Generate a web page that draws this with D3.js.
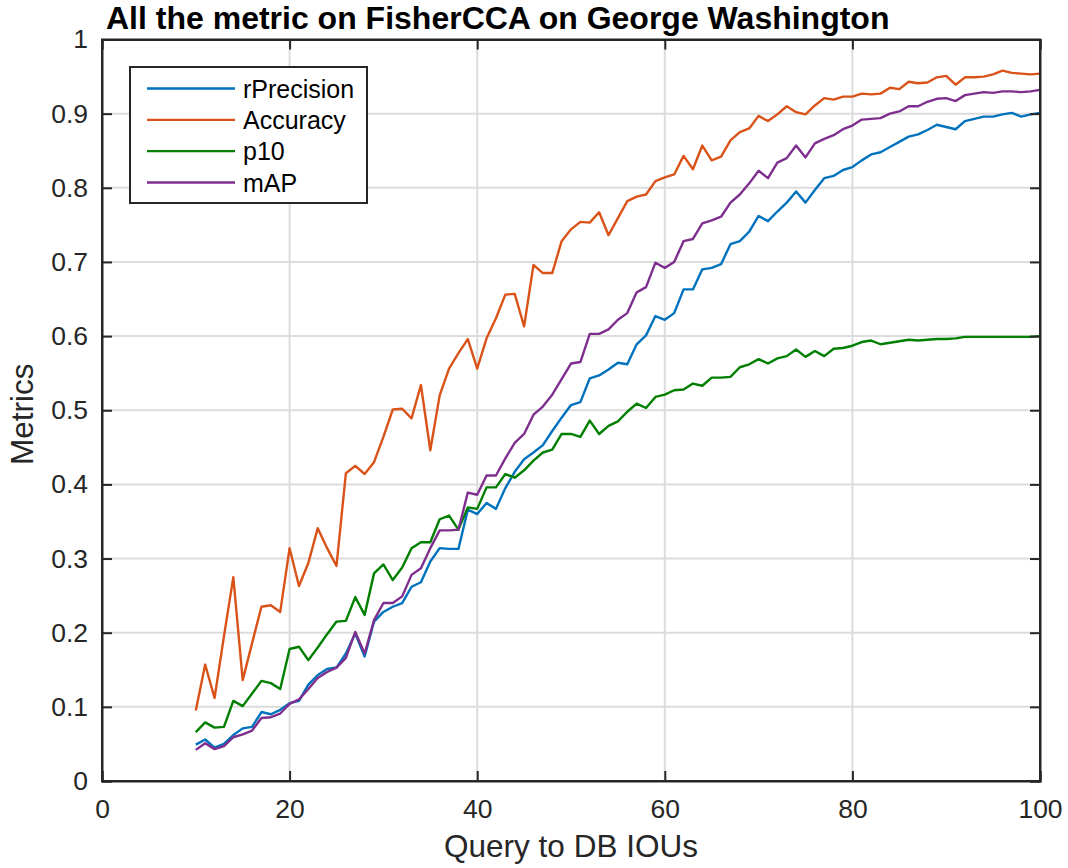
<!DOCTYPE html>
<html>
<head>
<meta charset="utf-8">
<script src="https://cdn.jsdelivr.net/npm/d3@7"></script>
<style>
  html, body { margin: 0; padding: 0; background: #fff; }
  svg { display: block; font-family: "Liberation Sans", Arial, Helvetica, sans-serif; }
</style>
</head>
<body>
<svg id="chart" width="1068" height="868"></svg>
<script>
// Query-to-DB IoU thresholds (x axis)
const ious = [10, 11, 12, 13, 14, 15, 16, 17, 18, 19, 20, 21, 22, 23, 24, 25, 26, 27, 28, 29,
  30, 31, 32, 33, 34, 35, 36, 37, 38, 39, 40, 41, 42, 43, 44, 45, 46, 47, 48, 49,
  50, 51, 52, 53, 54, 55, 56, 57, 58, 59, 60, 61, 62, 63, 64, 65, 66, 67, 68, 69,
  70, 71, 72, 73, 74, 75, 76, 77, 78, 79, 80, 81, 82, 83, 84, 85, 86, 87, 88, 89,
  90, 91, 92, 93, 94, 95, 96, 97, 98, 99, 100];

const rPrecision = [0.049, 0.056, 0.045, 0.050, 0.062, 0.071, 0.073, 0.093, 0.090, 0.096,
  0.105, 0.108, 0.130, 0.143, 0.151, 0.153, 0.172, 0.199, 0.168, 0.215,
  0.228, 0.235, 0.240, 0.262, 0.268, 0.296, 0.314, 0.313, 0.313, 0.366,
  0.360, 0.375, 0.367, 0.395, 0.417, 0.434, 0.443, 0.453, 0.472, 0.490,
  0.507, 0.511, 0.543, 0.547, 0.555, 0.564, 0.562, 0.589, 0.601, 0.627,
  0.622, 0.631, 0.663, 0.663, 0.690, 0.692, 0.697, 0.724, 0.728, 0.741,
  0.762, 0.755, 0.768, 0.780, 0.795, 0.780, 0.797, 0.813, 0.816, 0.824,
  0.828, 0.837, 0.845, 0.848, 0.855, 0.862, 0.869, 0.872, 0.878, 0.885,
  0.882, 0.879, 0.890, 0.893, 0.896, 0.896, 0.899, 0.901, 0.896, 0.899, 0.901];

const accuracy = [0.095, 0.157, 0.112, 0.195, 0.275, 0.136, 0.186, 0.235, 0.237, 0.228,
  0.314, 0.263, 0.294, 0.341, 0.314, 0.290, 0.415, 0.425, 0.414, 0.430,
  0.464, 0.501, 0.502, 0.489, 0.534, 0.446, 0.520, 0.556, 0.577, 0.596,
  0.556, 0.597, 0.624, 0.656, 0.657, 0.613, 0.696, 0.685, 0.685, 0.728,
  0.744, 0.754, 0.753, 0.767, 0.736, 0.759, 0.782, 0.788, 0.791, 0.809,
  0.814, 0.818, 0.843, 0.825, 0.857, 0.837, 0.842, 0.864, 0.875, 0.880,
  0.897, 0.890, 0.899, 0.910, 0.902, 0.899, 0.911, 0.921, 0.919, 0.923,
  0.923, 0.927, 0.926, 0.927, 0.935, 0.933, 0.943, 0.941, 0.942, 0.949,
  0.951, 0.939, 0.949, 0.949, 0.950, 0.953, 0.958, 0.955, 0.954, 0.953, 0.954];

const p10 = [0.066, 0.079, 0.072, 0.073, 0.108, 0.101, 0.118, 0.135, 0.132, 0.124,
  0.178, 0.181, 0.163, 0.180, 0.198, 0.215, 0.216, 0.248, 0.224, 0.280,
  0.292, 0.271, 0.288, 0.314, 0.322, 0.322, 0.353, 0.358, 0.339, 0.369,
  0.367, 0.396, 0.396, 0.414, 0.409, 0.419, 0.432, 0.443, 0.447, 0.468,
  0.468, 0.464, 0.486, 0.468, 0.479, 0.485, 0.498, 0.509, 0.503, 0.518,
  0.521, 0.527, 0.528, 0.536, 0.533, 0.544, 0.544, 0.545, 0.558, 0.562,
  0.569, 0.563, 0.570, 0.573, 0.582, 0.572, 0.580, 0.573, 0.583, 0.584,
  0.587, 0.592, 0.594, 0.589, 0.591, 0.593, 0.595, 0.594, 0.595, 0.596,
  0.596, 0.597, 0.599, 0.599, 0.599, 0.599, 0.599, 0.599, 0.599, 0.599, 0.600];

const mAP = [0.042, 0.051, 0.043, 0.047, 0.059, 0.063, 0.068, 0.085, 0.086, 0.091,
  0.104, 0.110, 0.124, 0.139, 0.147, 0.153, 0.166, 0.201, 0.172, 0.217,
  0.240, 0.240, 0.249, 0.278, 0.287, 0.314, 0.338, 0.338, 0.339, 0.389,
  0.386, 0.412, 0.412, 0.435, 0.456, 0.468, 0.494, 0.505, 0.521, 0.542,
  0.563, 0.565, 0.603, 0.603, 0.609, 0.622, 0.631, 0.659, 0.666, 0.699,
  0.692, 0.700, 0.728, 0.731, 0.752, 0.756, 0.761, 0.780, 0.791, 0.806,
  0.823, 0.813, 0.834, 0.840, 0.857, 0.841, 0.860, 0.866, 0.871, 0.879,
  0.884, 0.892, 0.893, 0.894, 0.900, 0.903, 0.910, 0.910, 0.916, 0.920,
  0.921, 0.917, 0.925, 0.927, 0.929, 0.928, 0.930, 0.930, 0.929, 0.930, 0.932];

const seriesNames = ["rPrecision", "Accuracy", "p10", "mAP"];
const seriesColors = ["#0072bd", "#d95319", "#007f00", "#7e2f8e"];
const xTicks = [0, 20, 40, 60, 80, 100];
const yTicks = [0, 0.1, 0.2, 0.3, 0.4, 0.5, 0.6, 0.7, 0.8, 0.9, 1];

const titleText = "All the metric on FisherCCA on George Washington";
const xLabelText = "Query to DB IOUs";
const yLabelText = "Metrics";

const series = [rPrecision, accuracy, p10, mAP].map((vals, i) => ({
  name: seriesNames[i],
  color: seriesColors[i],
  points: ious.map((x, j) => [x, vals[j]])
}));

const svg = d3.select("#chart");
const axisColor = "#262626";
const plot = { left: 102, right: 1040, top: 39.5, bottom: 781 };

const x = d3.scaleLinear().domain([0, 100]).range([plot.left, plot.right]);
const y = d3.scaleLinear().domain([0, 1]).range([plot.bottom, plot.top]);

// grid
const grid = svg.append("g");
grid.selectAll("line.gx").data(xTicks.slice(1, -1)).join("line")
  .attr("x1", d => x(d)).attr("x2", d => x(d))
  .attr("y1", plot.top).attr("y2", plot.bottom)
  .attr("stroke", "#dcdcdc").attr("stroke-width", 2);
grid.selectAll("line.gy").data(yTicks.slice(1, -1)).join("line")
  .attr("x1", plot.left).attr("x2", plot.right)
  .attr("y1", d => y(d)).attr("y2", d => y(d))
  .attr("stroke", "#dcdcdc").attr("stroke-width", 2);

// series lines
const line = d3.line().x(d => x(d[0])).y(d => y(d[1]));
svg.append("g").selectAll("path").data(series).join("path")
  .attr("d", d => line(d.points))
  .attr("fill", "none")
  .attr("stroke", d => d.color)
  .attr("stroke-width", 2.4)
  .attr("stroke-linejoin", "round");

// axes (inward ticks on all four sides, box on)
const tickLen = 10;
const fmtY = d => d === 0 ? "0" : d === 1 ? "1" : d3.format(".1f")(d);

const bottomAxis = d3.axisBottom(x).tickValues(xTicks).tickSize(-tickLen).tickPadding(18).tickFormat(d3.format("d"));
const topAxis = d3.axisTop(x).tickValues(xTicks).tickSize(-tickLen).tickFormat("");
const leftAxis = d3.axisLeft(y).tickValues(yTicks).tickSize(-tickLen).tickPadding(14).tickFormat(fmtY);
const rightAxis = d3.axisRight(y).tickValues(yTicks).tickSize(-tickLen).tickFormat("");

function styleAxis(g) {
  g.select(".domain").attr("stroke", axisColor).attr("stroke-width", 2);
  g.selectAll(".tick line").attr("stroke", axisColor).attr("stroke-width", 2);
  g.selectAll(".tick text").attr("fill", axisColor)
    .style("font-family", "'Liberation Sans', Arial, sans-serif").style("font-size", "26.5px");
}

svg.append("g").attr("transform", `translate(0,${plot.bottom})`).call(bottomAxis).call(styleAxis);
svg.append("g").attr("transform", `translate(0,${plot.top})`).call(topAxis).call(styleAxis);
svg.append("g").attr("transform", `translate(${plot.left},0)`).call(leftAxis).call(styleAxis);
svg.append("g").attr("transform", `translate(${plot.right},0)`).call(rightAxis).call(styleAxis);

// axes box
svg.append("rect")
  .attr("x", plot.left).attr("y", plot.top)
  .attr("width", plot.right - plot.left).attr("height", plot.bottom - plot.top)
  .attr("fill", "none").attr("stroke", axisColor).attr("stroke-width", 2);

// title
svg.append("text")
  .attr("x", 106).attr("y", 29)
  .attr("fill", "#000")
  .style("font-size", "32px").style("font-weight", "bold")
  .text(titleText);

// axis labels
svg.append("text")
  .attr("x", (plot.left + plot.right) / 2).attr("y", 857)
  .attr("text-anchor", "middle").attr("fill", axisColor)
  .style("font-size", "31.5px")
  .text(xLabelText);
svg.append("text")
  .attr("transform", `translate(33,${(plot.top + plot.bottom) / 2 + 4}) rotate(-90)`)
  .attr("text-anchor", "middle").attr("fill", axisColor)
  .style("font-size", "31.5px")
  .text(yLabelText);

// legend
const legend = svg.append("g");
legend.append("rect")
  .attr("x", 130).attr("y", 67).attr("width", 237).attr("height", 136)
  .attr("fill", "#fff").attr("stroke", axisColor).attr("stroke-width", 2);
const rowY = d3.scalePoint().domain(seriesNames).range([88.5, 182.5]);
const items = legend.selectAll("g.item").data(series).join("g")
  .attr("transform", d => `translate(0,${rowY(d.name)})`);
items.append("line")
  .attr("x1", 147).attr("x2", 235).attr("y1", 0).attr("y2", 0)
  .attr("stroke", d => d.color).attr("stroke-width", 2.4);
items.append("text")
  .attr("x", 243).attr("y", 0).attr("dy", "0.36em")
  .attr("fill", "#000")
  .style("font-size", "25px")
  .text(d => d.name);
</script>
</body>
</html>
